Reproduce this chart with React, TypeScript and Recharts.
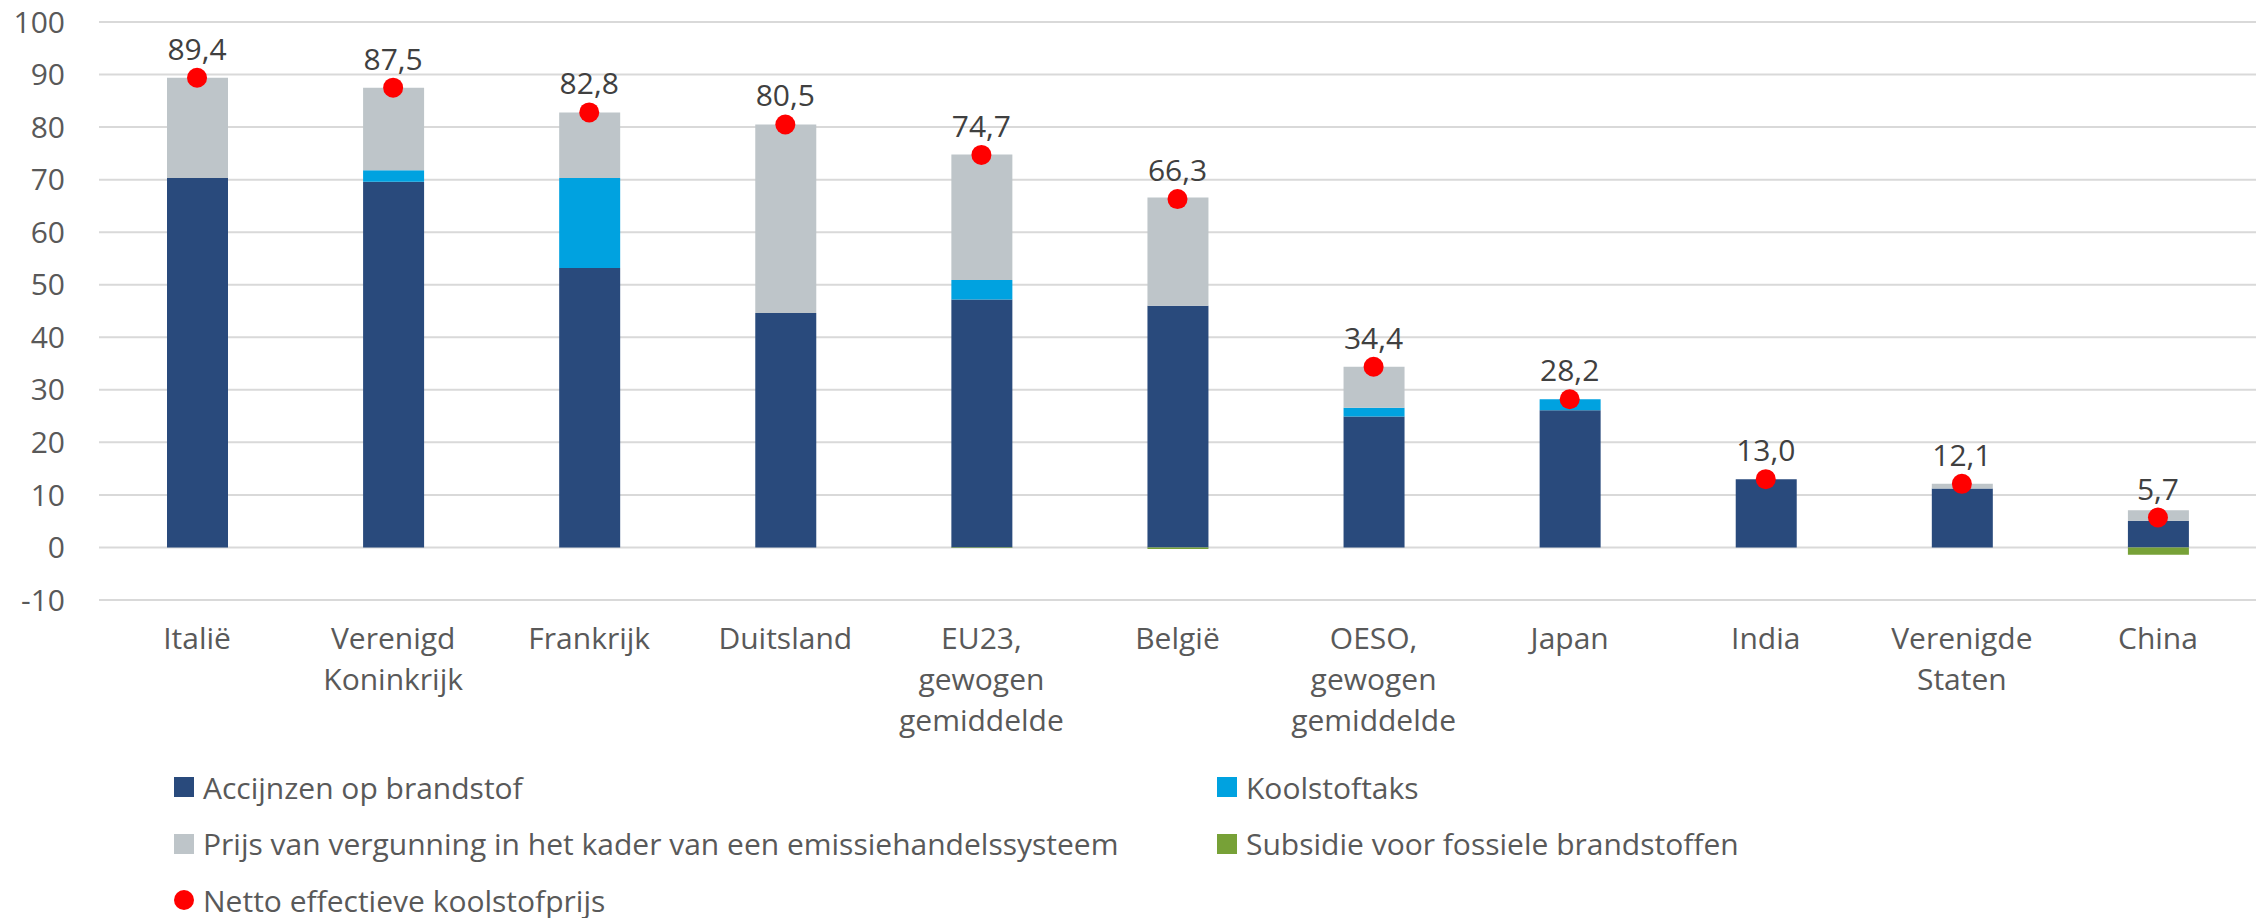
import { ComposedChart, Bar, Line, LabelList, XAxis, YAxis, CartesianGrid } from 'recharts';

const categories = [
  'Italië',
  'Verenigd\nKoninkrijk',
  'Frankrijk',
  'Duitsland',
  'EU23,\ngewogen\ngemiddelde',
  'België',
  'OESO,\ngewogen\ngemiddelde',
  'Japan',
  'India',
  'Verenigde\nStaten',
  'China',
];

const excise = [70.3, 69.6, 53.2, 44.6, 47.2, 46.0, 24.9, 26.1, 13.0, 11.2, 5.1];
const carbonTax = [0, 2.2, 17.1, 0, 3.7, 0, 1.7, 2.1, 0, 0, 0];
const etsPrice = [19.1, 15.7, 12.5, 35.9, 23.9, 20.6, 7.8, 0, 0, 0.9, 2.0];
const subsidy = [0, 0, 0, 0, -0.1, -0.3, 0, 0, 0, 0, -1.4];
const netPrice = [89.4, 87.5, 82.8, 80.5, 74.7, 66.3, 34.4, 28.2, 13.0, 12.1, 5.7];

const yTicks = [-10, 0, 10, 20, 30, 40, 50, 60, 70, 80, 90, 100];

const COLORS = {
  excise: '#294A7C',
  tax: '#00A2E0',
  ets: '#BEC5C9',
  subsidy: '#77A137',
  net: '#FF0000',
};

const legendItems = [
  { name: 'Accijnzen op brandstof', color: COLORS.excise, shape: 'rect', col: 0, row: 0 },
  { name: 'Koolstoftaks', color: COLORS.tax, shape: 'rect', col: 1, row: 0 },
  { name: 'Prijs van vergunning in het kader van een emissiehandelssysteem', color: COLORS.ets, shape: 'rect', col: 0, row: 1 },
  { name: 'Subsidie voor fossiele brandstoffen', color: COLORS.subsidy, shape: 'rect', col: 1, row: 1 },
  { name: 'Netto effectieve koolstofprijs', color: COLORS.net, shape: 'circle', col: 0, row: 2 },
];

const chartData = categories.map((name, i) => ({
  name,
  excise: excise[i],
  carbonTax: carbonTax[i],
  etsPrice: etsPrice[i],
  subsidy: subsidy[i],
  net: netPrice[i],
}));

const FONT = '"Open Sans", "Noto Sans", sans-serif';
const TEXT = '#595959';

const fmt = (v: number) => v.toFixed(1).replace('.', ',');

function CategoryTick(props: any) {
  const { x, y, payload } = props;
  const lines = String(payload.value).split('\n');
  return (
    <text x={x} y={y + 49} textAnchor="middle" fill={TEXT} fontSize={30} fontFamily={FONT}>
      {lines.map((line, i) => (
        <tspan key={i} x={x} dy={i === 0 ? 0 : 41}>
          {line}
        </tspan>
      ))}
    </text>
  );
}

function NetLabel(props: any) {
  const x = props.x ?? props.viewBox?.x;
  const y = props.y ?? props.viewBox?.y;
  if (x == null || y == null) return null;
  return (
    <text x={x} y={y - 18} textAnchor="middle" fill="#404040" fontSize={30} fontFamily={FONT}>
      {fmt(Number(props.value))}
    </text>
  );
}

export default function App() {
  const colX = [174, 1217];
  const rowY = [787, 843.5, 900];

  return (
    <div style={{ position: 'absolute', left: 0, top: 0, width: 2267, height: 918, background: '#fff', fontFamily: FONT }}>
      <ComposedChart
        width={2267}
        height={918}
        data={chartData}
        stackOffset="sign"
        margin={{ top: 22, right: 11, bottom: 288, left: 0 }}
      >
        <CartesianGrid vertical={false} stroke="#D9D9D9" strokeWidth={2} />
        <XAxis
          dataKey="name"
          axisLine={false}
          tickLine={false}
          tickSize={0}
          tickMargin={0}
          height={30}
          interval={0}
          tick={<CategoryTick />}
        />
        <YAxis
          domain={[-10, 100]}
          ticks={yTicks}
          interval={0}
          width={99}
          axisLine={false}
          tickLine={false}
          tickSize={0}
          tickMargin={34}
          tick={{ fill: TEXT, fontSize: 30, fontFamily: FONT }}
        />
        <Bar dataKey="excise" stackId="a" fill={COLORS.excise} barSize={61} isAnimationActive={false} />
        <Bar dataKey="carbonTax" stackId="a" fill={COLORS.tax} barSize={61} isAnimationActive={false} />
        <Bar dataKey="etsPrice" stackId="a" fill={COLORS.ets} barSize={61} isAnimationActive={false} />
        <Bar dataKey="subsidy" stackId="a" fill={COLORS.subsidy} barSize={61} isAnimationActive={false} />
        <Line
          dataKey="net"
          stroke="none"
          strokeWidth={0}
          dot={{ r: 10, fill: COLORS.net, stroke: 'none' }}
          activeDot={false}
          isAnimationActive={false}
        >
          <LabelList dataKey="net" content={<NetLabel />} />
        </Line>
      </ComposedChart>

      {legendItems.map((item) => (
        <div
          key={item.name}
          style={{
            position: 'absolute',
            left: colX[item.col],
            top: rowY[item.row] - 22,
            height: 44,
            display: 'flex',
            alignItems: 'center',
            whiteSpace: 'nowrap',
            fontSize: 30,
            color: TEXT,
            fontFamily: FONT,
          }}
        >
          <span
            style={{
              display: 'inline-block',
              width: 20,
              height: 20,
              marginRight: 9,
              background: item.color,
              borderRadius: item.shape === 'circle' ? '50%' : 0,
            }}
          />
          {item.name}
        </div>
      ))}
    </div>
  );
}
